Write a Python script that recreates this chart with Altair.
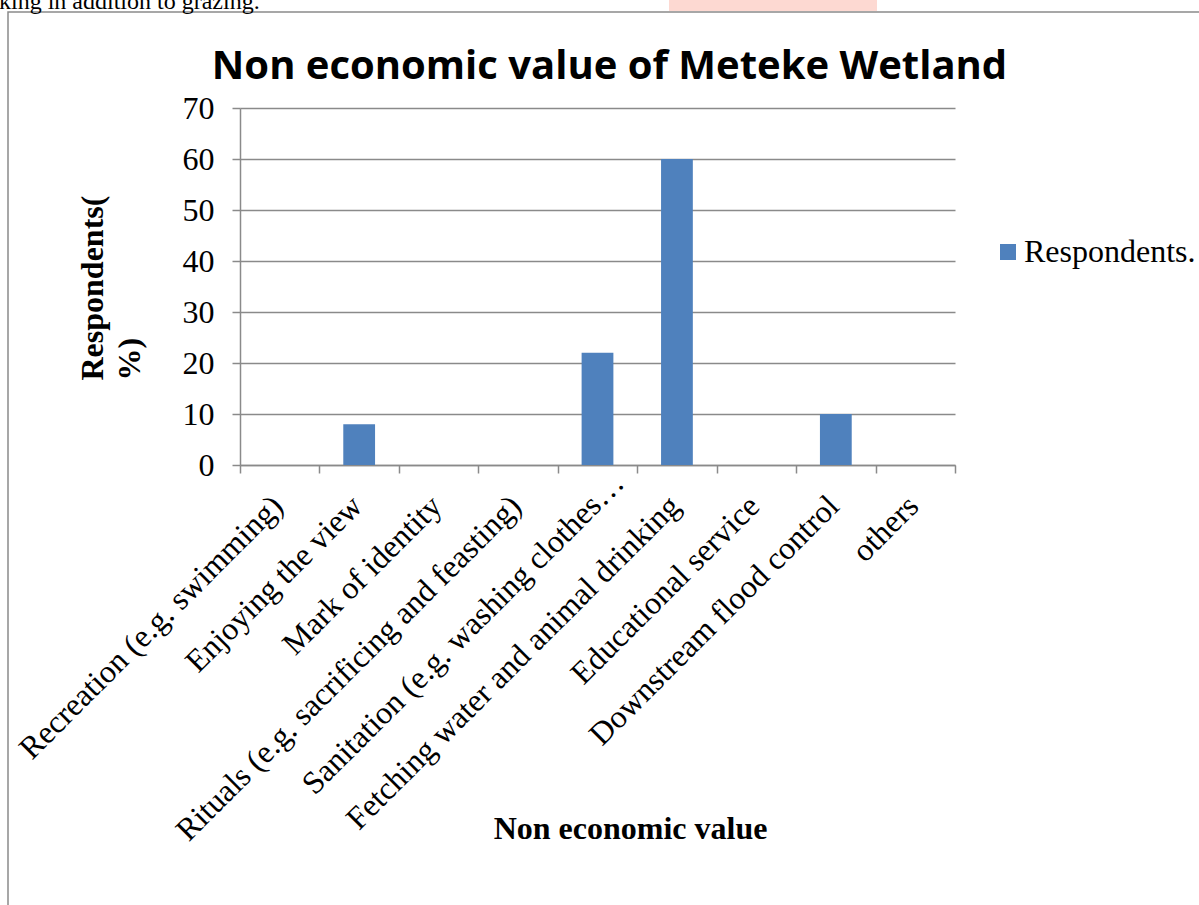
import altair as alt
import pandas as pd

# ---- data ----
categories = [
    "Recreation (e.g. swimming)",
    "Enjoying the view",
    "Mark of identity",
    "Rituals (e.g. sacrificing and feasting)",
    "Sanitation (e.g. washing clothes…",
    "Fetching water and animal drinking",
    "Educational service",
    "Downstream flood control",
    "others",
]
values = [0, 8, 0, 0, 22, 60, 0, 10, 0]
series_name = ["Respondents."] * len(categories)
y_ticks = [0, 10, 20, 30, 40, 50, 60, 70]
doc_text = ["king in addition to grazing."]

title_text = ["Non economic value of Meteke Wetland"]
x_title = "Non economic value"
y_title = ["Respondents(", "%)"]

df = pd.DataFrame({"category": categories, "value": values, "series": series_name})

W, H = 715, 357
GRAY = "#8a8a8a"
BLUE = "#4F81BD"
SERIF = "Liberation Serif"
TRUNCATED = categories[4]

x_enc = alt.X(
    "category:N",
    sort=categories,
    scale=alt.Scale(paddingInner=0, paddingOuter=0),
    title=x_title,
    axis=alt.Axis(
        labels=False,
        tickBand="extent",
        tickExtra=True,
        tickSize=8,
        tickColor=GRAY,
        tickWidth=1.5,
        domainColor=GRAY,
        domainWidth=1.5,
        grid=False,
        titleFont=SERIF,
        titleFontSize=32,
        titleFontWeight="bold",
        titleColor="black",
        titleX=390,
        titleY=373,
        titleAlign="center",
        titleBaseline="alphabetic",
    ),
)

bars = alt.Chart(df).mark_bar(color=BLUE, width=alt.RelativeBandSize(0.4)).encode(
    x=x_enc,
    y=alt.Y(
        "value:Q",
        scale=alt.Scale(domain=[0, 70]),
        title=y_title,
        axis=alt.Axis(
            values=y_ticks,
            labelFont=SERIF,
            labelFontSize=32,
            labelColor="black",
            labelPadding=18,
            tickSize=8,
            tickColor=GRAY,
            tickWidth=1.5,
            domainColor=GRAY,
            domainWidth=1.5,
            gridColor=GRAY,
            gridWidth=1.5,
            titleFont=SERIF,
            titleFontSize=32,
            titleFontWeight="bold",
            titleColor="black",
            titleAngle=270,
            titleAlign="left",
            titleBaseline="top",
            titleX=-163,
            titleY=272,
            titleLineHeight=37,
        ),
    ),
    color=alt.Color(
        "series:N",
        scale=alt.Scale(range=[BLUE]),
        legend=alt.Legend(
            title=None,
            orient="none",
            legendX=752,
            legendY=128,
            symbolType="square",
            symbolSize=256,
            symbolStrokeWidth=0,
            labelFont=SERIF,
            labelFontSize=32,
            labelColor="black",
            labelOffset=0,
            labelLimit=0,
        ),
    ),
)

label_style = dict(
    angle=315, align="right", baseline="middle", font=SERIF, fontSize=32,
    color="black",
)

labels_main = alt.Chart(df).transform_filter(
    alt.datum.category != TRUNCATED
).mark_text(dx=-3, **label_style).encode(
    x=x_enc, y=alt.value(H + 34), text="category:N"
)

# the truncated label sits further along its own direction, as in the source
labels_trunc = alt.Chart(df).transform_filter(
    alt.datum.category == TRUNCATED
).mark_text(dx=30, **label_style).encode(
    x=x_enc, y=alt.value(H + 34), text="category:N"
)

frame = alt.Chart(pd.DataFrame({"f": [0]})).mark_rect(
    fillOpacity=0, stroke=GRAY, strokeWidth=1.5
).encode(
    x=alt.value(-232), x2=alt.value(965), y=alt.value(-96), y2=alt.value(805)
)

watermark = alt.Chart(pd.DataFrame({"f": [0]})).mark_rect(
    color="#fdd9d2"
).encode(
    x=alt.value(429), x2=alt.value(637), y=alt.value(-108), y2=alt.value(-97)
)

top_text = alt.Chart(pd.DataFrame({"t": doc_text})).mark_text(
    align="left", baseline="alphabetic", font=SERIF, fontSize=24, color="black",
    x=-241, y=-99
).encode(text="t:N")

title = alt.Chart(pd.DataFrame({"t": title_text})).mark_text(
    align="center", baseline="alphabetic", font="Open Sans", fontSize=40,
    fontWeight="bold", color="black", x=W / 2 + 12, y=-29
).encode(text="t:N")

chart = alt.layer(
    watermark, frame, bars, labels_main, labels_trunc, top_text, title
).properties(
    width=W,
    height=H,
    padding={"left": 240, "top": 108, "right": 244, "bottom": 440},
    autosize=alt.AutoSizeParams(type="none"),
).configure_view(stroke=None)

chart.save("out.html", embed_options={"renderer": "svg", "actions": False})
